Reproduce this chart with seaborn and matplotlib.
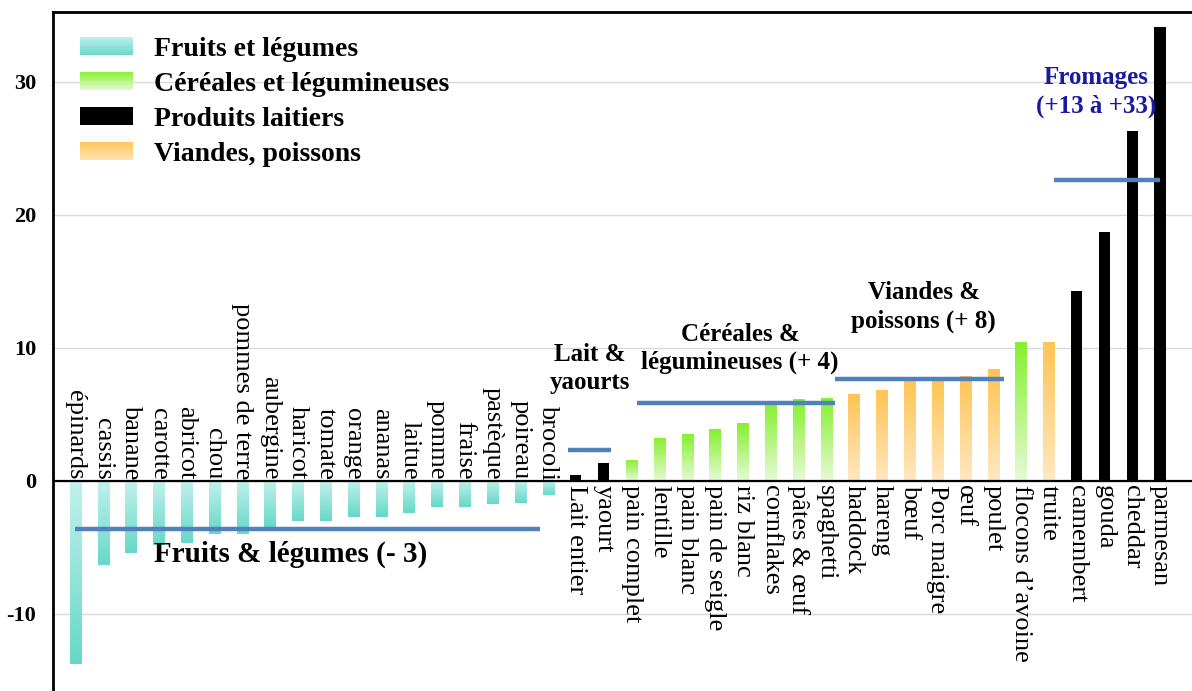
"""Impact des aliments : barres par groupe alimentaire avec moyennes de groupe."""

import numpy as np
import matplotlib
matplotlib.use("Agg")
import matplotlib.pyplot as plt
from matplotlib.colors import LinearSegmentedColormap
from matplotlib.legend_handler import HandlerBase
from matplotlib.patches import Rectangle
import seaborn as sns


FOODS = ["épinards", "cassis", "banane", "carotte", "abricot", "chou", "pommes de terre",
         "aubergine", "haricot", "tomate", "orange", "ananas", "laitue", "pomme", "fraise",
         "pastèque", "poireau", "brocoli",
         "Lait entier", "yaourt",
         "pain complet", "lentille", "pain blanc", "pain de seigle", "riz blanc", "cornflakes",
         "pâtes & œuf", "spaghetti",
         "haddock", "hareng", "bœuf", "Porc maigre", "œuf", "poulet",
         "flocons d’avoine", "truite",
         "camembert", "gouda", "cheddar", "parmesan"]
VALUES = [-13.8, -6.3, -5.4, -4.8, -4.7, -4.0, -4.0, -3.5, -3.0, -3.0, -2.75, -2.75, -2.4,
          -2.0, -2.0, -1.75, -1.65, -1.1,
          0.45, 1.35,
          1.6, 3.25, 3.5, 3.9, 4.35, 5.8, 6.15, 6.25,
          6.5, 6.8, 7.5, 7.5, 7.85, 8.4,
          10.45, 10.45,
          14.3, 18.7, 26.3, 34.1]
GROUPS = (["Fruits et légumes"] * 18 + ["Produits laitiers"] * 2
          + ["Céréales et légumineuses"] * 8 + ["Viandes, poissons"] * 6
          + ["Céréales et légumineuses", "Viandes, poissons"] + ["Produits laitiers"] * 4)

LEGEND_ORDER = ["Fruits et légumes", "Céréales et légumineuses", "Produits laitiers", "Viandes, poissons"]
# (base, pointe) du degrade de chaque groupe
GRADIENTS = {"Fruits et légumes": ("#c2f1eb", "#66d8c8"),
             "Céréales et légumineuses": ("#e6fad6", "#86f02e"),
             "Produits laitiers": ("#000000", "#000000"),
             "Viandes, poissons": ("#ffe8c2", "#ffc453")}
# degrade des pastilles de legende (haut, bas)
LEGEND_GRAD = {"Fruits et légumes": ("#b9efe8", "#6cd9cb"),
               "Céréales et légumineuses": ("#8ef23a", "#e2f9cf"),
               "Produits laitiers": ("#000000", "#000000"),
               "Viandes, poissons": ("#ffc862", "#ffe2ad")}
SOLID = {"Fruits et légumes": "#8ee3d8", "Céréales et légumineuses": "#9ef24e",
         "Produits laitiers": "#000000", "Viandes, poissons": "#ffcd70"}

# moyennes par groupe (trait bleu) et etendue en categories
MEAN_LABELS = ["Fruits & légumes (- 3)", "Lait &\nyaourts", "Céréales &\nlégumineuses (+ 4)",
               "Viandes &\npoissons (+ 8)", "Fromages\n(+13 à +33)"]
MEAN_VALUES = [-3.6, 2.3, 5.85, 7.65, 22.65]
MEAN_START = [0.0, 17.7, 20.2, 27.3, 35.2]
MEAN_END = [16.7, 19.25, 27.3, 33.4, 39.0]
LABEL_X = [7.75, 18.5, 23.9, 30.5, 36.7]
LABEL_Y = [-5.55, 8.45, 9.95, 13.1, 29.25]
LABEL_COLORS = ["black", "black", "black", "black", "#1a1a9e"]
LABEL_SIZES = [21, 18, 18, 18, 18]

Y_TICKS = [-10, 0, 10, 20, 30]


class GradSwatch:
    def __init__(self, top, bottom):
        self.top, self.bottom = top, bottom


class GradHandler(HandlerBase):
    def create_artists(self, legend, orig_handle, xdescent, ydescent, width, height, fontsize, trans):
        cmap = LinearSegmentedColormap.from_list("sw", [orig_handle.bottom, orig_handle.top])
        n = 14
        arts = []
        for k in range(n):
            arts.append(Rectangle((-xdescent, -ydescent + height * k / n), width, height / n * 1.05,
                                  facecolor=cmap(k / (n - 1)), edgecolor="none", transform=trans))
        return arts


sns.set_theme(style="white")
plt.rcParams["font.family"] = ["Liberation Serif", "DejaVu Serif"]
plt.rcParams["text.color"] = "black"
plt.rcParams["ytick.color"] = "black"
plt.rcParams["ytick.labelcolor"] = "black"

fig = plt.figure(figsize=(11.92, 6.91), dpi=100)
ax = fig.add_axes([53 / 1192, 0.0, 1 - 53 / 1192, 1 - 12 / 691])

sns.barplot(x=FOODS, y=VALUES, hue=GROUPS, palette=SOLID, dodge=False, width=0.4,
            saturation=1, legend=False, ax=ax, zorder=3)

# degrade vertical dans chaque barre
grad = np.linspace(0, 1, 128).reshape(-1, 1)
for patch in ax.patches:
    x0, w, h = patch.get_x(), patch.get_width(), patch.get_height()
    idx = int(round(x0 + w / 2))
    group = GROUPS[idx]
    patch.set_edgecolor("none")
    if group == "Produits laitiers":
        continue
    cmap = LinearSegmentedColormap.from_list(group, GRADIENTS[group])
    img = ax.imshow(grad, cmap=cmap, origin="lower", aspect="auto",
                    extent=(x0, x0 + w, 0, h), zorder=3, interpolation="bilinear")
    img.set_clip_path(patch)

# etiquettes des aliments, verticales, collees a l'axe zero
for i, (name, val) in enumerate(zip(FOODS, VALUES)):
    if val < 0:
        ax.text(i, 0.1, name, rotation=270, ha="center", va="bottom", fontsize=19,
                color="black", zorder=4)
    else:
        ax.text(i, -0.3, name, rotation=270, ha="center", va="top", fontsize=19,
                color="black", zorder=4)

# moyennes des groupes
ax.hlines(MEAN_VALUES, MEAN_START, MEAN_END, color="#4f81bd", linewidth=3.2, zorder=5)
for txt, x, y, c, s in zip(MEAN_LABELS, LABEL_X, LABEL_Y, LABEL_COLORS, LABEL_SIZES):
    ax.text(x, y, txt, ha="center", va="center", multialignment="center",
            fontsize=s, fontweight="bold", color=c, zorder=6, linespacing=1.3)

ax.axhline(0, color="black", linewidth=1.6, zorder=4)
ax.set_xlim(-0.8, 40.15)
ax.set_ylim(-15.8, 35.25)
ax.set_yticks(Y_TICKS)
ax.set_yticklabels([str(t) for t in Y_TICKS], fontsize=16, fontweight="bold", color="black")
ax.set_xticks([])
ax.set_xlabel("")
ax.grid(axis="y", color="#d9d9d9", linewidth=1, zorder=0)
ax.tick_params(axis="y", length=0, pad=12)
for side in ["right", "bottom"]:
    ax.spines[side].set_visible(False)
for side in ["left", "top"]:
    ax.spines[side].set_color("black")
    ax.spines[side].set_linewidth(2)

handles = [GradSwatch(*LEGEND_GRAD[g]) for g in LEGEND_ORDER]
leg = ax.legend(handles, LEGEND_ORDER, handler_map={GradSwatch: GradHandler()},
                loc="upper left", bbox_to_anchor=(80 / 1192, 1 - 37 / 691),
                bbox_transform=fig.transFigure, frameon=False, borderpad=0, borderaxespad=0,
                handlelength=1.9, handleheight=0.6, handletextpad=0.75, labelspacing=0.36,
                prop={"size": 20, "weight": "bold"})
for t in leg.get_texts():
    t.set_color("black")

fig.savefig("out.png", dpi=100, facecolor="white")
